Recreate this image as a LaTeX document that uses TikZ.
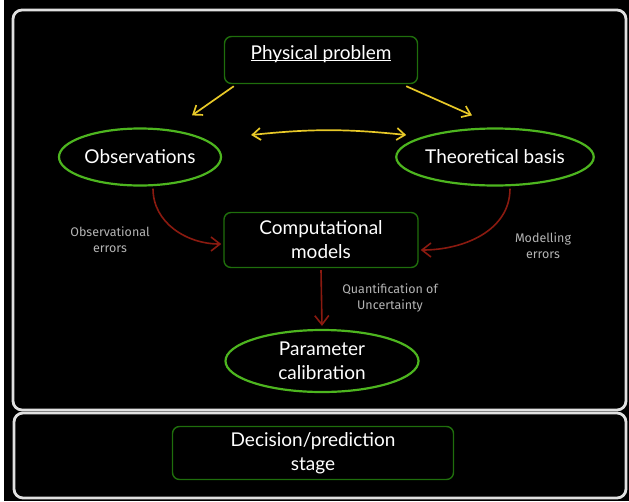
\documentclass[tikz,border=0pt]{standalone}
\usepackage{fontspec}
\setmainfont{Lato}
\newfontfamily\labelfont{Fira Sans}
\usetikzlibrary{arrows.meta,shapes.geometric}
\definecolor{ellgreen}{HTML}{4DB51F}
\definecolor{boxgreen}{HTML}{1F6E0C}
\definecolor{arryellow}{HTML}{E8C928}
\definecolor{arrred}{HTML}{8A1A10}
\definecolor{lblgray}{HTML}{B4B4B4}
\begin{document}
\begin{tikzpicture}[x=1pt,y=-1pt,
  panel/.style={draw=white!88!black,line width=2.8pt,rounded corners=9pt},
  boxnode/.style={draw=boxgreen,line width=1.4pt,rounded corners=7pt,text=white,
    font=\fontsize{19}{24}\selectfont,align=center,inner sep=0pt},
  ellnode/.style={draw=ellgreen,ellipse,line width=2.2pt,text=white,
    font=\fontsize{19}{24}\selectfont,align=center,inner sep=0pt},
  yarrow/.style={draw=arryellow,line width=1.7pt,-{Straight Barb[length=8pt,width=12pt,line width=1.7pt]}},
  rarrow/.style={draw=arrred,line width=1.6pt,-{Straight Barb[length=9pt,width=14pt,line width=1.6pt]}},
  lbl/.style={text=lblgray,font=\labelfont\fontsize{12.5}{16}\selectfont,align=center}]
\useasboundingbox (0,0) rectangle (629,501);
\fill[black] (0,0) rectangle (629,501);
\fill[white] (0,0) rectangle (4,501);
% panels
\draw[panel] (13,10) rectangle (626,410);
\draw[panel] (14,413) rectangle (626,498);
% nodes
\node[boxnode,minimum width=193pt,minimum height=47pt] (pp) at (321,60)
  {\underline{\smash{Physical problem}}};
\node[ellnode,minimum width=162pt,minimum height=57pt] (obs) at (140,157) {Observations};
\node[ellnode,minimum width=196pt,minimum height=57pt] (theo) at (495,157) {Theoretical basis};
\node[boxnode,minimum width=194pt,minimum height=55pt] (comp) at (321,240) {Computational\\models};
\node[ellnode,minimum width=193pt,minimum height=62pt] (calib) at (322,361) {Parameter\\calibration};
\node[boxnode,minimum width=281pt,minimum height=53pt] (dec) at (313,453) {Decision/prediction\\stage};
% labels
\node[lbl] (lobs) at (110,240) {Observational\\errors};
\node[lbl] (lmod) at (543,246) {Modelling\\errors};
\node[lbl] (lqu) at (390,298) {Quantification of\\Uncertainty};
% yellow arrows
\draw[yarrow] ([xshift=10pt,yshift=-2pt]pp.south west) -- ([xshift=52pt,yshift=12pt]obs.north);
\draw[yarrow] ([xshift=-12pt,yshift=-2pt]pp.south east) -- ([xshift=-23pt,yshift=12pt]theo.north);
\draw[yarrow,{Straight Barb[length=8pt,width=12pt,line width=1.7pt]}-{Straight Barb[length=8pt,width=12pt,line width=1.7pt]}]
  ([xshift=29pt,yshift=22pt]obs.east) to[bend left=6] ([xshift=11pt,yshift=22pt]theo.west);
% red arrows
\draw[rarrow] ([xshift=13pt,yshift=-2pt]obs.south) to[out=-90,in=180] ([xshift=-2pt,yshift=-4pt]comp.west);
\draw[rarrow] ([xshift=15pt,yshift=-2pt]theo.south) to[out=-90,in=0] ([xshift=2pt,yshift=-10pt]comp.east);
\draw[rarrow] ([yshift=-2pt]comp.south) -- ([yshift=3pt]calib.north);
\end{tikzpicture}
\end{document}
